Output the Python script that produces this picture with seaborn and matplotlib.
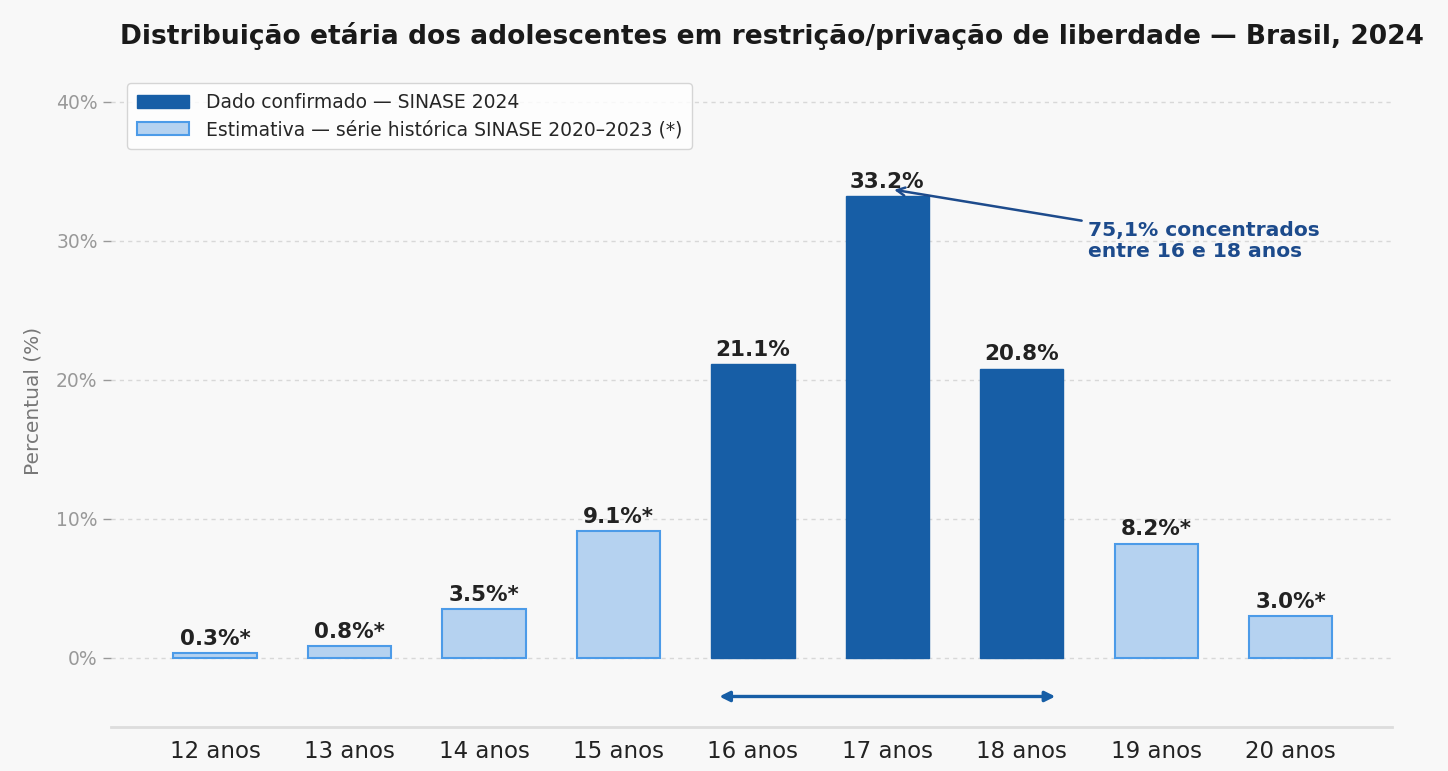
import matplotlib
matplotlib.use("Agg")
import matplotlib.pyplot as plt
import pandas as pd
import seaborn as sns

# dados
idades = ["12 anos", "13 anos", "14 anos", "15 anos", "16 anos",
          "17 anos", "18 anos", "19 anos", "20 anos"]
percentuais = [0.3, 0.8, 3.5, 9.1, 21.1, 33.2, 20.8, 8.2, 3.0]
confirmado = [False, False, False, False, True, True, True, False, False]

LBL_CONF = "Dado confirmado — SINASE 2024"
LBL_EST = "Estimativa — série histórica SINASE 2020–2023 (*)"

df = pd.DataFrame({
    "idade": idades,
    "pct": percentuais,
    "tipo": [LBL_CONF if c else LBL_EST for c in confirmado],
})

DARK = "#175ea6"
LIGHT = "#b5d2f0"
LIGHT_EDGE = "#4c9be8"
BG = "#f8f8f8"

sns.set_theme(style="white")
plt.rcParams["font.family"] = ["DejaVu Sans"]

fig = plt.figure(figsize=(14.48, 7.71), dpi=100, facecolor=BG)
ax = fig.add_axes([0.077, 0.057, 0.884, 0.847])
ax.set_facecolor(BG)

sns.barplot(data=df, x="idade", y="pct", hue="tipo", order=idades,
            hue_order=[LBL_CONF, LBL_EST], palette=[DARK, LIGHT],
            saturation=1, dodge=False, width=0.62, legend=False, ax=ax,
            zorder=3)

conts = ax.containers
for p in conts[0].patches:
    p.set_edgecolor(DARK)
    p.set_linewidth(1.0)
for p in conts[1].patches:
    p.set_edgecolor(LIGHT_EDGE)
    p.set_linewidth(1.5)

# rótulos das barras
for i, (v, c) in enumerate(zip(percentuais, confirmado)):
    txt = f"{v:.1f}%" if c else f"{v:.1f}%*"
    ax.annotate(txt, (i, v), xytext=(0, 3), textcoords="offset points",
                ha="center", va="bottom", fontsize=15.5, fontweight="bold",
                color="#222222")

ax.set_ylim(-5, 42)
ax.set_xlim(-0.77, 8.75)
ax.set_yticks([0, 10, 20, 30, 40])
ax.set_yticklabels([f"{t}%" for t in [0, 10, 20, 30, 40]])
ax.yaxis.grid(True, linestyle=(0, (3, 3)), color="#d8d8d8", linewidth=1.0,
              zorder=0)
ax.xaxis.grid(False)
ax.tick_params(axis="y", colors="#999999", labelsize=13.5, length=6, width=1,
               left=True, pad=4)
ax.tick_params(axis="x", labelsize=16.5, labelcolor="#222222", length=0, pad=9)
for s in ["top", "right", "left"]:
    ax.spines[s].set_visible(False)
ax.spines["bottom"].set_color("#dddddd")
ax.spines["bottom"].set_linewidth(2)
ax.set_xlabel("")
ax.set_ylabel("Percentual (%)", fontsize=14.5, color="#777777", labelpad=10)

# faixa 16-18
ax.annotate("", xy=(3.73, -2.8), xytext=(6.27, -2.8),
            arrowprops=dict(arrowstyle="<|-|>", color=DARK, lw=2.4,
                            mutation_scale=15))

ax.annotate("75,1% concentrados\nentre 16 e 18 anos", xy=(5.03, 33.7),
            xytext=(6.49, 30.0), ha="left", va="center", fontsize=14.6,
            fontweight="bold", color="#1d4b8c", linespacing=1.15,
            arrowprops=dict(arrowstyle="->", color="#1d4b8c", lw=1.8))

ax.legend(handles=[conts[0].patches[0], conts[1].patches[0]],
          labels=[LBL_CONF, LBL_EST], loc="upper left",
          bbox_to_anchor=(0.005, 1.0), fontsize=13.5, frameon=True,
          facecolor="white", edgecolor="#cccccc", borderpad=0.5,
          handlelength=2.8, labelspacing=0.45, handletextpad=0.9)

fig.text(0.533, 0.953, "Distribuição etária dos adolescentes em restrição/privação de liberdade — Brasil, 2024",
         ha="center", va="center", fontsize=19.1, fontweight="bold", color="#1a1a1a")

fig.savefig("out.png", dpi=100, facecolor=BG)
